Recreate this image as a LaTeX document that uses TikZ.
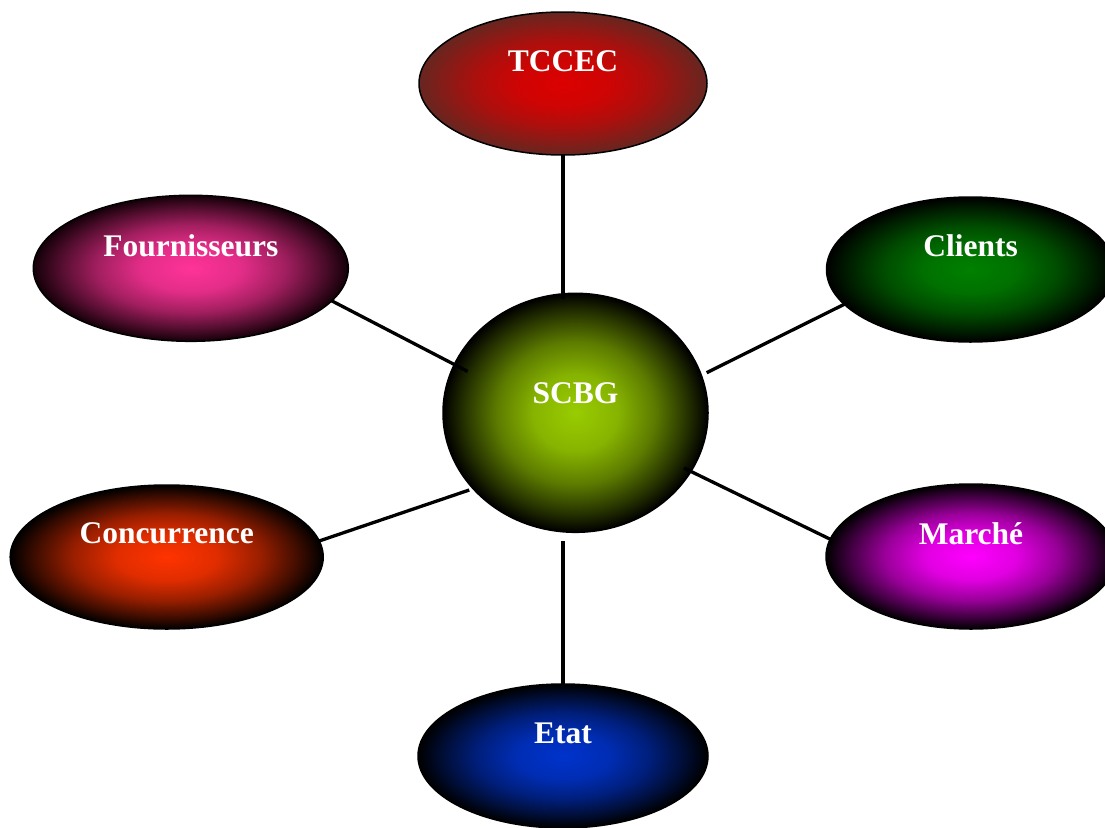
\documentclass[tikz,border=0pt]{standalone}
\usepackage{fontspec}
\setmainfont{Liberation Serif}
\usetikzlibrary{shapes.geometric,calc}

\definecolor{tccecIn}{HTML}{DC0000}
\definecolor{tccecOut}{HTML}{662620}
\definecolor{fournIn}{HTML}{FF3399}
\definecolor{fournOut}{HTML}{140008}
\definecolor{clientIn}{HTML}{008000}
\definecolor{scbgIn}{HTML}{99CC00}
\definecolor{concIn}{HTML}{FF3300}
\definecolor{marcheIn}{HTML}{FF00FF}
\definecolor{etatIn}{HTML}{0033CC}

% radial glow: bright core that holds, darkening towards the rim
\newcommand\glowshade[3]{%
  \colorlet{#1A}{#2!88!#3}%
  \colorlet{#1B}{#2!60!#3}%
  \colorlet{#1C}{#2!25!#3}%
  \pgfdeclareradialshading{#1}{\pgfpoint{0bp}{0bp}}{%
    color(0bp)=(#2); color(8bp)=(#1A); color(15bp)=(#1B);
    color(21bp)=(#1C); color(25bp)=(#3); color(50bp)=(#3)}}
\glowshade{glowTccec}{tccecIn}{tccecOut}
\glowshade{glowFourn}{fournIn}{fournOut}
\glowshade{glowClient}{clientIn}{black}
\glowshade{glowScbg}{scbgIn}{black}
\glowshade{glowConc}{concIn}{black}
\glowshade{glowMarche}{marcheIn}{black}
\glowshade{glowEtat}{etatIn}{black}

\begin{document}
\begin{tikzpicture}[x=1pt,y=-1pt,
  bubble/.style={ellipse,draw=black,line width=1.5pt,inner sep=0pt,outer sep=0pt,shade},
  caption/.style={text=white,font=\fontsize{31.5}{36}\selectfont\bfseries,
    anchor=base,inner sep=0pt},
  link/.style={draw=black,line width=3.3pt}]
\useasboundingbox (0,0) rectangle (1105,827);

% centre
\node[bubble,minimum width=265pt,minimum height=239pt,shading=glowScbg]
  (scbg) at (575.5,412.8) {};
\node[caption] (scbgT) at ([yshift=9.8pt]scbg.center) {SCBG};

% surrounding partners
\node[bubble,minimum width=288pt,minimum height=143pt,shading=glowTccec]
  (tccec) at (563,83.5) {};
\node[caption] (tccecT) at ([yshift=11.8pt]tccec.center) {TCCEC};

\node[bubble,minimum width=315pt,minimum height=146pt,shading=glowFourn]
  (four) at (190.8,268.3) {};
\node[caption] (fourT) at ([yshift=12.3pt]four.center) {Fournisseurs};

\node[bubble,minimum width=288pt,minimum height=145pt,shading=glowClient]
  (clients) at (970.5,269.5) {};
\node[caption] (clientsT) at ([yshift=13.5pt]clients.center) {Clients};

\node[bubble,minimum width=313pt,minimum height=144pt,shading=glowConc]
  (conc) at (166.7,557) {};
\node[caption] (concT) at ([yshift=13.5pt]conc.center) {Concurrence};

\node[bubble,minimum width=290pt,minimum height=145pt,shading=glowMarche]
  (marche) at (971,556.5) {};
\node[caption] (marcheT) at ([yshift=12.5pt]marche.center) {Marché};

\node[bubble,minimum width=290pt,minimum height=144pt,shading=glowEtat]
  (etat) at (563,756) {};
\node[caption] (etatT) at ([yshift=12.7pt]etat.center) {Etat};

% connectors
\draw[link,shorten >=-5.5pt] (tccec.south) -- (tccec.south |- scbg.north);
\draw[link,shorten <=9pt] (etat.north |- scbg.south) -- (etat.north);
\draw[link] (four.-13.7) -- ($(scbg.center)!0.885!(scbg.159.8)$);
\draw[link] ($(clients.center)!0.96!(clients.195)$) -- ($(scbg.center)!1.045!(scbg.17.1)$);
\draw[link] (conc.6) -- ($(scbg.center)!1.03!(scbg.216.4)$);
\draw[link] (marche.173) -- ($(scbg.center)!0.94!(scbg.-27.6)$);
\end{tikzpicture}
\end{document}
